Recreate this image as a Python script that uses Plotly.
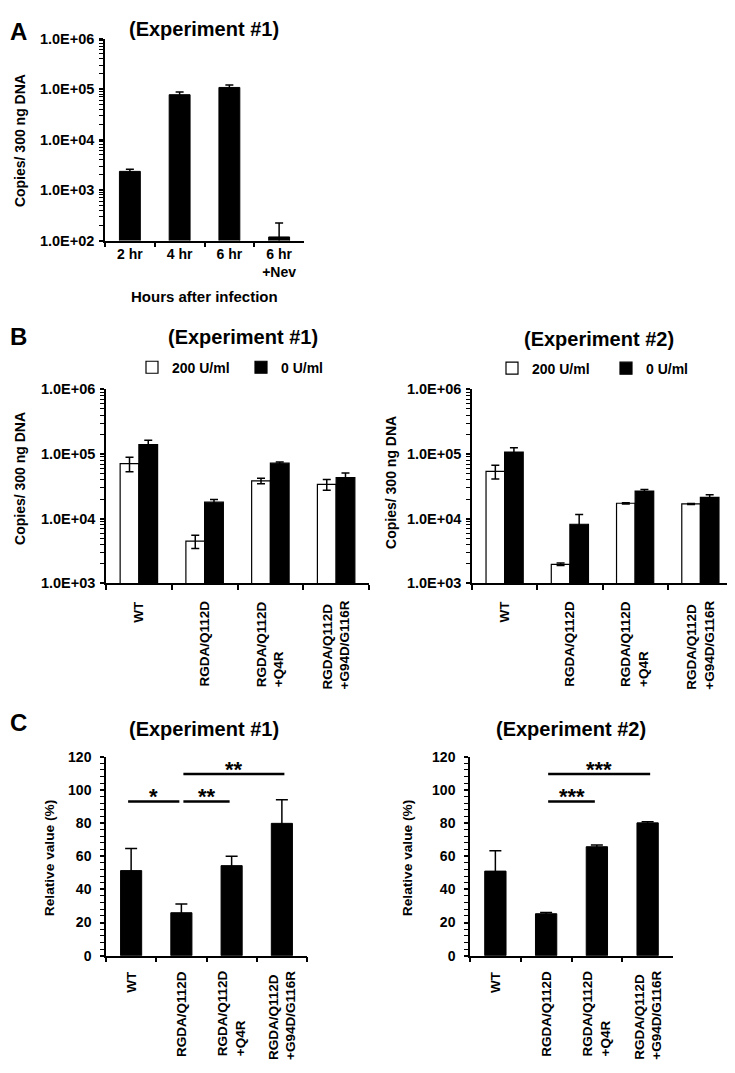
import plotly.graph_objects as go

FONT = "Liberation Sans"
# the page body has an 8px margin; figure sized so it fits the 735x1073 window
OFF = 8
W, H = 735 - OFF, 1073 - OFF

# ---------------- data ----------------
# Panel A
a_categories = ["2 hr", "4 hr", "6 hr", "6 hr<br>+Nev"]
a_copies = [2350, 77600, 108000, 118]
a_err = [230, 10000, 13000, 105]
a_tickvals = [1e2, 1e3, 1e4, 1e5, 1e6]
a_ticktext = ["1.0E+02", "1.0E+03", "1.0E+04", "1.0E+05", "1.0E+06"]

# Panel B
b_categories = ["WT", "RGDA/Q112D", "RGDA/Q112D<br>+Q4R", "RGDA/Q112D<br>+G94D/G116R"]
b1_200 = [71000, 4500, 38500, 34000]
b1_200_err = [18000, 1050, 3700, 6500]
b1_0 = [140000, 18000, 72000, 43000]
b1_0_err = [23000, 1700, 3400, 7700]
b2_200 = [54000, 1970, 17300, 16900]
b2_200_err = [13000, 90, 400, 300]
b2_0 = [107000, 8200, 26700, 21400]
b2_0_err = [18000, 3400, 1600, 2100]
b_tickvals = [1e3, 1e4, 1e5, 1e6]
b_ticktext = ["1.0E+03", "1.0E+04", "1.0E+05", "1.0E+06"]
series_names = ["200 U/ml", "0 U/ml"]

# Panel C
c_categories = b_categories
c1_rel = [51.3, 25.9, 54.3, 79.8]
c1_err = [13.4, 5.3, 5.6, 14.3]
c2_rel = [51.0, 25.3, 65.7, 80.1]
c2_err = [12.3, 0.7, 1.0, 0.6]
c_tickvals = [0, 20, 40, 60, 80, 100, 120]
# significance brackets: (from category, to category, level, label)
c1_sig = [(0, 1, 93, "*"), (1, 2, 93, "**"), (1, 3, 109.5, "**")]
c2_sig = [(1, 2, 93, "***"), (1, 3, 109.5, "***")]

titles = ["(Experiment #1)", "(Experiment #2)"]


# ---------------- helpers (page pixel -> paper fraction) ----------------
def xd(a, b):
    return [(a - OFF) / W, (b - OFF) / W]


def yd(top, bottom):
    return [1 - (bottom - OFF) / H, 1 - (top - OFF) / H]


def px(xp, yp):
    return (xp - OFF) / W, 1 - (yp - OFF) / H


def f(size, color="black"):
    return dict(family=FONT, size=size, color=color, weight="bold")


def errs(arr, w=4):
    return dict(type="data", array=arr, visible=True, color="black", thickness=1.5, width=w)


TICK_LOG = 14.5
TICK_LIN = 14
ROT_CAT = 13.5

fig = go.Figure()

# Panel A
fig.add_trace(go.Bar(x=a_categories, y=a_copies, xaxis="x", yaxis="y", width=0.42,
                     marker=dict(color="black", line=dict(color="black", width=1)),
                     error_y=errs(a_err), showlegend=False))

# Panel B
for (w_vals, w_err, k_vals, k_err, xa, ya, lg) in [
    (b1_200, b1_200_err, b1_0, b1_0_err, "x2", "y2", "legend"),
    (b2_200, b2_200_err, b2_0, b2_0_err, "x3", "y3", "legend2"),
]:
    fig.add_trace(go.Bar(x=b_categories, y=w_vals, xaxis=xa, yaxis=ya, name=series_names[0],
                         offset=-0.285, width=0.285,
                         marker=dict(color="white", line=dict(color="black", width=1.2)),
                         error_y=errs(w_err), legend=lg, showlegend=True))
    fig.add_trace(go.Bar(x=b_categories, y=k_vals, xaxis=xa, yaxis=ya, name=series_names[1],
                         offset=0.0, width=0.285,
                         marker=dict(color="black", line=dict(color="black", width=1.2)),
                         error_y=errs(k_err), legend=lg, showlegend=True))

# Panel C
for vals, er, xa, ya in [(c1_rel, c1_err, "x4", "y4"), (c2_rel, c2_err, "x5", "y5")]:
    fig.add_trace(go.Bar(x=c_categories, y=vals, xaxis=xa, yaxis=ya, width=0.42,
                         marker=dict(color="black", line=dict(color="black", width=1)),
                         error_y=errs(er, 6), showlegend=False))

xcommon = dict(type="category", showline=True, linecolor="black", linewidth=1.5,
               ticks="outside", tickson="boundaries", ticklen=5, tickwidth=1.5, tickcolor="black",
               range=[-0.5, 3.5], showgrid=False, zeroline=False, fixedrange=True)
ylog = dict(type="log", showline=True, linecolor="black", linewidth=1.5, ticks="outside",
            ticklen=4, tickwidth=1.5, tickcolor="black", tickmode="array", showgrid=False,
            zeroline=False, tickfont=f(TICK_LOG), ticklabelstandoff=2,
            minor=dict(ticks="outside", ticklen=4, tickwidth=1, tickcolor="black", dtick="D1",
                       showgrid=False))
ylin = dict(type="linear", range=[0, 120], showline=True, linecolor="black", linewidth=1.5,
            ticks="outside", ticklen=4, tickwidth=1.5, tickcolor="black", tickmode="array",
            tickvals=c_tickvals, showgrid=False, zeroline=False, tickfont=f(TICK_LIN),
            ticklabelstandoff=6,
            minor=dict(ticks="outside", ticklen=4, tickwidth=1, tickcolor="black", dtick=4,
                       showgrid=False))
# overlay axes that add the inner half of the crossing tick marks
yin_log = dict(type="log", showline=False, ticks="inside", ticklen=4, tickwidth=1.5,
               tickcolor="black", showticklabels=False, showgrid=False, zeroline=False,
               minor=dict(ticks="inside", ticklen=4, tickwidth=1, tickcolor="black", dtick="D1",
                          showgrid=False))
yin_lin = dict(type="linear", range=[0, 120], showline=False, ticks="inside", ticklen=4,
               tickwidth=1.5, tickcolor="black", tickmode="array", tickvals=c_tickvals,
               showticklabels=False, showgrid=False, zeroline=False,
               minor=dict(ticks="inside", ticklen=4, tickwidth=1, tickcolor="black", dtick=4,
                          showgrid=False))

fig.update_layout(
    width=W, height=H, margin=dict(l=0, r=0, t=0, b=0),
    paper_bgcolor="white", plot_bgcolor="white", barmode="overlay",
    font=f(14),
    xaxis=dict(xcommon, domain=xd(105, 304), anchor="y", tickfont=f(14), showticklabels=True),
    yaxis=dict(ylog, domain=yd(31, 236), anchor="x", range=[2, 6],
               tickvals=a_tickvals, ticktext=a_ticktext),
    xaxis2=dict(xcommon, domain=xd(106, 369), anchor="y2", showticklabels=False),
    yaxis2=dict(ylog, domain=yd(387, 584), anchor="x2", range=[3, 6],
                tickvals=b_tickvals, ticktext=b_ticktext),
    xaxis3=dict(xcommon, domain=xd(472, 733), anchor="y3", showticklabels=False),
    yaxis3=dict(ylog, domain=yd(387, 584), anchor="x3", range=[3, 6],
                tickvals=b_tickvals, ticktext=b_ticktext),
    xaxis4=dict(xcommon, domain=xd(106, 307), anchor="y4", showticklabels=False),
    yaxis4=dict(ylin, domain=yd(760, 962), anchor="x4"),
    xaxis5=dict(xcommon, domain=xd(470, 673), anchor="y5", showticklabels=False),
    yaxis5=dict(ylin, domain=yd(760, 962), anchor="x5"),
    yaxis6=dict(yin_log, overlaying="y", anchor="x", range=[2, 6], tickmode="array",
                tickvals=a_tickvals),
    yaxis7=dict(yin_log, overlaying="y2", anchor="x2", range=[3, 6], tickmode="array",
                tickvals=b_tickvals),
    yaxis8=dict(yin_log, overlaying="y3", anchor="x3", range=[3, 6], tickmode="array",
                tickvals=b_tickvals),
    yaxis9=dict(yin_lin, overlaying="y4", anchor="x4"),
    yaxis10=dict(yin_lin, overlaying="y5", anchor="x5"),
    legend=dict(orientation="h", x=(132 - OFF) / W, y=1 - (365 - OFF) / H, xanchor="left",
                yanchor="middle", font=f(14), bgcolor="rgba(0,0,0,0)", entrywidth=64,
                entrywidthmode="pixels", itemclick=False),
    legend2=dict(orientation="h", x=(492 - OFF) / W, y=1 - (366 - OFF) / H, xanchor="left",
                 yanchor="middle", font=f(14), bgcolor="rgba(0,0,0,0)", entrywidth=69,
                 entrywidthmode="pixels", itemclick=False),
)

ann = []
# panel letters (left-aligned at the figure's left edge)
for letter, yp, anc in zip(["A", "B", "C"], [OFF, 333, 725], ["top", "middle", "middle"]):
    x, y = px(OFF, yp)
    ann.append(dict(text=letter, x=x, y=y, xref="paper", yref="paper", xanchor="left",
                    yanchor=anc, showarrow=False, font=f(24)))
# titles
x, y = px(204, OFF)
ann.append(dict(text=titles[0], x=x, y=y, xref="paper", yref="paper", xanchor="center",
                yanchor="top", showarrow=False, font=f(20)))
for t, (xp, yp) in zip([titles[0], titles[1], titles[0], titles[1]],
                       [(243, 334), (599, 336), (204, 732), (571, 732)]):
    x, y = px(xp, yp)
    ann.append(dict(text=t, x=x, y=y, xref="paper", yref="paper", xanchor="center",
                    yanchor="middle", showarrow=False, font=f(20)))
# y axis titles
for t, (xp, yp), fs in zip(["Copies/ 300 ng DNA"] * 3 + ["Relative value (%)"] * 2,
                           [(20, 135), (20, 478), (391, 482), (49, 863), (407, 863)],
                           [14, 14, 14, 13.7, 13.7]):
    x, y = px(xp, yp)
    ann.append(dict(text=t, x=x, y=y, xref="paper", yref="paper", xanchor="center",
                    yanchor="middle", textangle=-90, showarrow=False, font=f(fs)))
# x axis title A
x, y = px(204, 293)
ann.append(dict(text="Hours after infection", x=x, y=y, xref="paper", yref="paper",
                xanchor="center", yanchor="middle", showarrow=False, font=f(15)))
# rotated category labels for B and C
for xa, ya, dy in [("x2", "y2", -0.08), ("x3", "y3", -0.08), ("x4", "y4", -0.065), ("x5", "y5", -0.065)]:
    for i, lab in enumerate(b_categories):
        ann.append(dict(text=lab, x=i, y=dy, xref=xa, yref=ya + " domain", xanchor="center",
                        yanchor="top", textangle=-90, align="left", showarrow=False,
                        font=f(ROT_CAT)))

shapes = []
for sig, xa, ya in [(c1_sig, "x4", "y4"), (c2_sig, "x5", "y5")]:
    for (i, j, lvl, lab) in sig:
        x0 = i - 0.06 if i == 0 else i + 0.04
        x1 = j + 0.05 if j == 3 else j - 0.04
        shapes.append(dict(type="line", xref=xa, yref=ya, x0=x0, x1=x1, y0=lvl, y1=lvl,
                           line=dict(color="black", width=2.5)))
        ann.append(dict(text=lab, x=(x0 + x1) / 2, y=lvl + 3, xref=xa, yref=ya,
                        xanchor="center", yanchor="middle", showarrow=False, font=f(22)))

fig.update_layout(annotations=ann, shapes=shapes)
fig.write_html("out.html")
